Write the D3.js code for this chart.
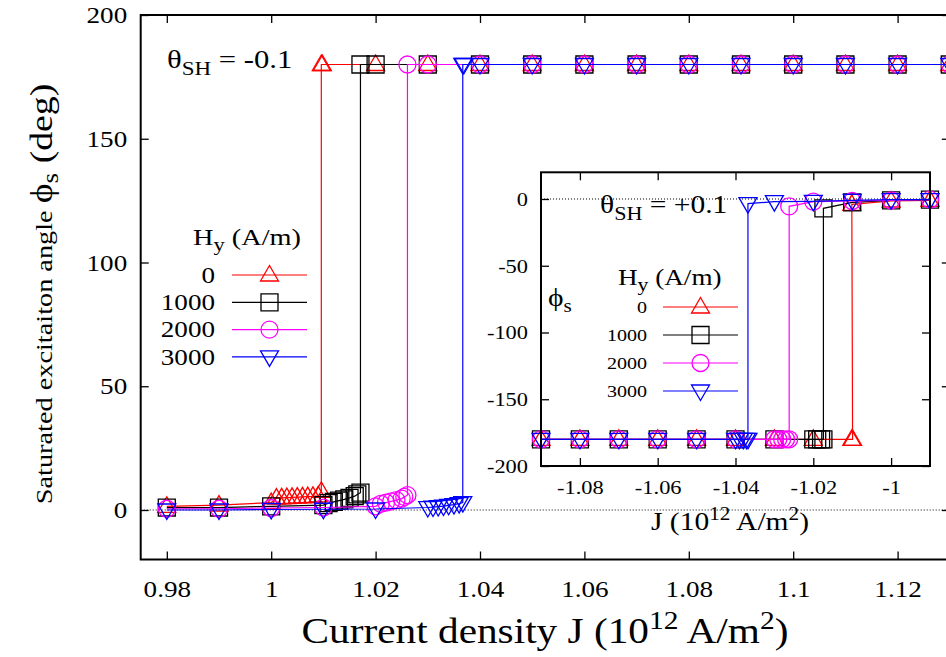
<!DOCTYPE html>
<html>
<head>
<meta charset="utf-8">
<script src="https://cdn.jsdelivr.net/npm/d3@7"></script>
<style>
  body { margin: 0; background: #fff; }
</style>
</head>
<body>
<svg id="chart" width="946" height="657" font-family="'Liberation Serif', 'Times New Roman', serif"></svg>
<script>

// legend / series labels (Hy in A/m)
var fieldLabels = [ '0', '1000', '2000', '3000' ];
var seriesShapes = [ 'up', 'square', 'circle', 'down' ];
var seriesColors = [ '#ff0000', '#000000', '#ff00ff', '#0000ff' ];

// main panel, theta_SH = -0.1 : [ J, phi_s ]
var mainHy0 = [
	[ 0.98, 1.5 ], [ 0.99, 2.0 ], [ 1.00, 3.0 ], [ 1.001, 4.8 ], [ 1.002, 4.9 ], [ 1.003, 5.0 ],
	[ 1.004, 5.1 ], [ 1.005, 5.2 ], [ 1.006, 5.3 ], [ 1.007, 5.4 ], [ 1.008, 5.5 ], [ 1.009, 5.7 ],
	[ 1.0096, 7.5 ], [ 1.0096, 180 ], [ 1.0098, 180 ], [ 1.02, 180 ], [ 1.03, 180 ], [ 1.04, 180 ],
	[ 1.05, 180 ], [ 1.06, 180 ], [ 1.07, 180 ], [ 1.08, 180 ], [ 1.09, 180 ], [ 1.10, 180 ],
	[ 1.11, 180 ], [ 1.12, 180 ], [ 1.13, 180 ]
];
var mainHy1000 = [
	[ 0.98, 1.0 ], [ 0.99, 1.0 ], [ 1.00, 1.5 ], [ 1.01, 2.0 ], [ 1.011, 2.8 ], [ 1.012, 3.3 ],
	[ 1.013, 3.8 ], [ 1.014, 4.3 ], [ 1.015, 4.9 ], [ 1.016, 5.6 ], [ 1.0165, 6.3 ], [ 1.0171, 7.0 ],
	[ 1.0171, 180 ], [ 1.02, 180 ], [ 1.03, 180 ], [ 1.04, 180 ], [ 1.05, 180 ], [ 1.06, 180 ],
	[ 1.07, 180 ], [ 1.08, 180 ], [ 1.09, 180 ], [ 1.10, 180 ], [ 1.11, 180 ], [ 1.12, 180 ],
	[ 1.13, 180 ]
];
var mainHy2000 = [
	[ 0.98, 0.5 ], [ 0.99, 0.5 ], [ 1.00, 0.8 ], [ 1.01, 1.0 ], [ 1.02, 1.5 ], [ 1.021, 2.5 ],
	[ 1.022, 3.0 ], [ 1.023, 3.5 ], [ 1.024, 4.0 ], [ 1.025, 4.6 ], [ 1.0255, 5.3 ], [ 1.0261, 6.0 ],
	[ 1.0261, 180 ], [ 1.03, 180 ], [ 1.04, 180 ], [ 1.05, 180 ], [ 1.06, 180 ], [ 1.07, 180 ],
	[ 1.08, 180 ], [ 1.09, 180 ], [ 1.10, 180 ], [ 1.11, 180 ], [ 1.12, 180 ], [ 1.13, 180 ]
];
var mainHy3000 = [
	[ 0.98, 0.0 ], [ 0.99, 0.0 ], [ 1.00, 0.2 ], [ 1.01, 0.3 ], [ 1.02, 0.4 ], [ 1.03, 1.0 ],
	[ 1.031, 1.2 ], [ 1.032, 1.4 ], [ 1.033, 1.6 ], [ 1.034, 1.9 ], [ 1.035, 2.2 ], [ 1.036, 2.6 ],
	[ 1.0367, 3.0 ], [ 1.0367, 180 ], [ 1.0369, 180 ], [ 1.04, 180 ], [ 1.05, 180 ], [ 1.06, 180 ],
	[ 1.07, 180 ], [ 1.08, 180 ], [ 1.09, 180 ], [ 1.10, 180 ], [ 1.11, 180 ], [ 1.12, 180 ],
	[ 1.13, 180 ]
];

// inset, theta_SH = +0.1 : [ J, phi_s ]
var insetHy0 = [
	[ -1.09, -180 ], [ -1.08, -180 ], [ -1.07, -180 ], [ -1.06, -180 ], [ -1.05, -180 ], [ -1.04, -180 ],
	[ -1.03, -180 ], [ -1.02, -180 ], [ -1.0101, -180 ], [ -1.0099, -180 ], [ -1.0101, -4.0 ],
	[ -1.00, -1.5 ], [ -0.99, -1.0 ]
];
var insetHy1000 = [
	[ -1.09, -180 ], [ -1.08, -180 ], [ -1.07, -180 ], [ -1.06, -180 ], [ -1.05, -180 ], [ -1.04, -180 ],
	[ -1.03, -180 ], [ -1.02, -180 ], [ -1.019, -180 ], [ -1.018, -180 ], [ -1.0174, -180 ],
	[ -1.0174, -7.0 ], [ -1.01, -2.5 ], [ -1.00, -1.0 ], [ -0.99, -0.5 ]
];
var insetHy2000 = [
	[ -1.09, -180 ], [ -1.08, -180 ], [ -1.07, -180 ], [ -1.06, -180 ], [ -1.05, -180 ], [ -1.04, -180 ],
	[ -1.03, -180 ], [ -1.029, -180 ], [ -1.028, -180 ], [ -1.027, -180 ], [ -1.0262, -180 ],
	[ -1.0262, -5.5 ], [ -1.02, -2.0 ], [ -1.01, -1.5 ], [ -1.00, -1.0 ], [ -0.99, -0.5 ]
];
var insetHy3000 = [
	[ -1.09, -180 ], [ -1.08, -180 ], [ -1.07, -180 ], [ -1.06, -180 ], [ -1.05, -180 ], [ -1.04, -180 ],
	[ -1.039, -180 ], [ -1.038, -180 ], [ -1.0372, -180 ], [ -1.0368, -180 ], [ -1.0368, -3.5 ],
	[ -1.03, -2.0 ], [ -1.02, -1.8 ], [ -1.01, -1.0 ], [ -1.00, -0.5 ], [ -0.99, -0.5 ]
];

// tick values
var mainXTicks = [ 0.98, 1.00, 1.02, 1.04, 1.06, 1.08, 1.10, 1.12 ];
var mainYTicks = [ 0, 50, 100, 150, 200 ];
var insetXTicks = [ -1.08, -1.06, -1.04, -1.02, -1.00 ];
var insetYTicks = [ -200, -150, -100, -50, 0 ];

var mainSeries = [ mainHy0, mainHy1000, mainHy2000, mainHy3000 ];
var insetSeries = [ insetHy0, insetHy1000, insetHy2000, insetHy3000 ];

// the original font is wider than Times, stretch text horizontally
var STRETCH = 1.18;

var svg = d3.select( '#chart' );

function stretchAt( _x, _y ) {
	return 'translate(' + _x + ',' + _y + ') scale(' + STRETCH + ',1)';
}

function markerPath( _shape ) {
	if ( _shape === 'up' ) return 'M0,-9.5L9,6L-9,6Z';
	if ( _shape === 'down' ) return 'M0,9.5L9,-6L-9,-6Z';
	if ( _shape === 'square' ) return 'M-8.5,-8.5H8.5V8.5H-8.5Z';
	var p = d3.path();
	p.arc( 0, 0, 8.5, 0, 2 * Math.PI );
	p.closePath();
	return p.toString();
}

function fmtNum( _d ) {
	return String( +_d.toFixed( 2 ) );
}

// draw one panel (frame, ticks, dotted zero line, series)
function drawPanel( _g, _x, _y, _series, _opts ) {
	var x0 = _x.range()[ 0 ], x1 = _x.range()[ 1 ],
		y0 = _y.range()[ 0 ], y1 = _y.range()[ 1 ];

	_g.append( 'rect' )
		.attr( 'x', x0 ).attr( 'y', y1 )
		.attr( 'width', x1 - x0 ).attr( 'height', y0 - y1 )
		.attr( 'fill', '#fff' );

	// zero line
	_g.append( 'line' )
		.attr( 'x1', x0 ).attr( 'x2', x1 )
		.attr( 'y1', _y( 0 ) ).attr( 'y2', _y( 0 ) )
		.attr( 'stroke', '#000' ).attr( 'stroke-width', 1 )
		.attr( 'stroke-dasharray', '1,2' );

	var xAxis = d3.axisBottom( _x ).tickValues( _opts.xTicks ).tickSizeInner( -8 ).tickSizeOuter( 0 ).tickFormat( fmtNum );
	var xTop = d3.axisTop( _x ).tickValues( _opts.xTicks ).tickSizeInner( -8 ).tickSizeOuter( 0 ).tickFormat( '' );
	var yAxis = d3.axisLeft( _y ).tickValues( _opts.yTicks ).tickSizeInner( -8 ).tickSizeOuter( 0 ).tickFormat( fmtNum );
	var yRight = d3.axisRight( _y ).tickValues( _opts.yTicks ).tickSizeInner( -8 ).tickSizeOuter( 0 ).tickFormat( '' );

	var gx = _g.append( 'g' ).attr( 'transform', 'translate(0,' + y0 + ')' ).call( xAxis );
	var gxt = _g.append( 'g' ).attr( 'transform', 'translate(0,' + y1 + ')' ).call( xTop );
	var gy = _g.append( 'g' ).attr( 'transform', 'translate(' + x0 + ',0)' ).call( yAxis );
	var gyr = _g.append( 'g' ).attr( 'transform', 'translate(' + x1 + ',0)' ).call( yRight );

	[ gx, gxt, gy, gyr ].forEach( function( _a ) {
		_a.attr( 'font-family', null ).attr( 'font-size', null );
		_a.select( '.domain' ).remove();
		_a.selectAll( '.tick line' ).attr( 'stroke', '#000' ).attr( 'stroke-width', 1.3 );
	} );

	gx.selectAll( 'text' )
		.attr( 'fill', '#000' ).attr( 'font-size', _opts.tickFont )
		.attr( 'dy', null ).attr( 'x', 0 ).attr( 'y', 0 )
		.attr( 'transform', stretchAt( 0, _opts.xLabelDy ) );
	gy.selectAll( 'text' )
		.attr( 'fill', '#000' ).attr( 'font-size', _opts.tickFont )
		.attr( 'x', 0 ).attr( 'dy', '0.33em' )
		.attr( 'transform', stretchAt( _opts.yLabelDx, 0 ) );

	var line = d3.line().x( function( _d ) { return _x( _d[ 0 ] ); } ).y( function( _d ) { return _y( _d[ 1 ] ); } );

	_series.forEach( function( _s, _i ) {
		_g.append( 'path' )
			.attr( 'd', line( _s ) )
			.attr( 'fill', 'none' )
			.attr( 'stroke', seriesColors[ _i ] )
			.attr( 'stroke-width', 1.2 );
		_g.selectAll( null ).data( _s ).enter().append( 'path' )
			.attr( 'd', markerPath( seriesShapes[ _i ] ) )
			.attr( 'transform', function( _d ) { return 'translate(' + _x( _d[ 0 ] ) + ',' + _y( _d[ 1 ] ) + ')'; } )
			.attr( 'fill', 'none' )
			.attr( 'stroke', seriesColors[ _i ] )
			.attr( 'stroke-width', 1.3 );
	} );

	// frame
	_g.append( 'rect' )
		.attr( 'x', x0 ).attr( 'y', y1 )
		.attr( 'width', x1 - x0 ).attr( 'height', y0 - y1 )
		.attr( 'fill', 'none' ).attr( 'stroke', '#000' ).attr( 'stroke-width', 2 );
}

function drawLegend( _g, _lx, _ly, _opts ) {
	var title = _g.append( 'text' ).attr( 'transform', stretchAt( _opts.titleX, _ly - _opts.titleGap ) )
		.attr( 'font-size', _opts.titleFont );
	title.append( 'tspan' ).text( 'H' );
	title.append( 'tspan' ).attr( 'dy', _opts.titleFont * 0.25 ).attr( 'font-size', _opts.titleFont * 0.8 ).text( 'y' );
	title.append( 'tspan' ).attr( 'dy', -_opts.titleFont * 0.25 ).text( ' (A/m)' );

	fieldLabels.forEach( function( _lab, _i ) {
		var yy = _ly + _i * _opts.rowGap;
		_g.append( 'text' ).attr( 'transform', stretchAt( _lx, yy ) ).attr( 'dy', '0.33em' )
			.attr( 'text-anchor', 'end' ).attr( 'font-size', _opts.entryFont ).text( _lab );
		_g.append( 'line' )
			.attr( 'x1', _opts.lineX0 ).attr( 'x2', _opts.lineX1 ).attr( 'y1', yy ).attr( 'y2', yy )
			.attr( 'stroke', seriesColors[ _i ] ).attr( 'stroke-width', 1.2 );
		_g.append( 'path' ).attr( 'd', markerPath( seriesShapes[ _i ] ) )
			.attr( 'transform', 'translate(' + ( _opts.lineX0 + _opts.lineX1 ) / 2 + ',' + yy + ')' )
			.attr( 'fill', 'none' ).attr( 'stroke', seriesColors[ _i ] ).attr( 'stroke-width', 1.3 );
	} );
}

function thetaLabel( _g, _x, _y, _size, _value ) {
	var t = _g.append( 'text' ).attr( 'transform', stretchAt( _x, _y ) ).attr( 'font-size', _size );
	t.append( 'tspan' ).text( 'θ' );
	t.append( 'tspan' ).attr( 'dy', _size * 0.28 ).attr( 'font-size', _size * 0.75 ).text( 'SH' );
	t.append( 'tspan' ).attr( 'dy', -_size * 0.28 ).text( ' = ' + _value );
}

// ---- main panel
var x = d3.scaleLinear().domain( [ 0.975, 1.13 ] ).range( [ 140.7, 949.8 ] );
var y = d3.scaleLinear().domain( [ -20, 200 ] ).range( [ 559.5, 15 ] );

var gMain = svg.append( 'g' );
drawPanel( gMain, x, y, mainSeries, {
	xTicks: mainXTicks, yTicks: mainYTicks,
	tickFont: 23, xLabelDy: 37.5, yLabelDx: -13.5
} );

thetaLabel( gMain, 167, 68, 26, '-0.1' );
drawLegend( gMain, 215, 275, {
	titleX: 193, titleGap: 30, titleFont: 24, entryFont: 23, rowGap: 27.3,
	lineX0: 232, lineX1: 307
} );

// axis titles
var xt = svg.append( 'text' ).attr( 'transform', stretchAt( 545, 643 ) )
	.attr( 'text-anchor', 'middle' ).attr( 'font-size', 35 );
xt.append( 'tspan' ).text( 'Current density J (10' );
xt.append( 'tspan' ).attr( 'dy', -14 ).attr( 'font-size', 25 ).text( '12' );
xt.append( 'tspan' ).attr( 'dy', 14 ).text( ' A/m' );
xt.append( 'tspan' ).attr( 'dy', -14 ).attr( 'font-size', 25 ).text( '2' );
xt.append( 'tspan' ).attr( 'dy', 14 ).text( ')' );

var yt = svg.append( 'text' ).attr( 'transform', 'translate(52,294) rotate(-90) scale(' + STRETCH + ',1)' ).attr( 'text-anchor', 'middle' );
yt.append( 'tspan' ).attr( 'font-size', 24 ).text( 'Saturated excitaiton angle ' );
yt.append( 'tspan' ).attr( 'font-size', 32 ).text( 'ϕ' );
yt.append( 'tspan' ).attr( 'font-size', 23 ).attr( 'dy', 6 ).text( 's' );
yt.append( 'tspan' ).attr( 'font-size', 32 ).attr( 'dy', -6 ).text( ' (deg)' );

// ---- inset panel
var xi = d3.scaleLinear().domain( [ -1.09, -0.99 ] ).range( [ 541, 930 ] );
var yi = d3.scaleLinear().domain( [ -200, 20 ] ).range( [ 466, 172.3 ] );

var gInset = svg.append( 'g' );
drawPanel( gInset, xi, yi, insetSeries, {
	xTicks: insetXTicks, yTicks: insetYTicks,
	tickFont: 19, xLabelDy: 28, yLabelDx: -13
} );

thetaLabel( gInset, 600, 213, 25, '+0.1' );
drawLegend( gInset, 647, 307, {
	titleX: 618, titleGap: 22, titleFont: 23, entryFont: 17, rowGap: 28,
	lineX0: 663, lineX1: 738
} );

var xit = gInset.append( 'text' ).attr( 'transform', stretchAt( 730, 530 ) ).attr( 'text-anchor', 'middle' ).attr( 'font-size', 25 );
xit.append( 'tspan' ).text( 'J (10' );
xit.append( 'tspan' ).attr( 'dy', -10 ).attr( 'font-size', 18 ).text( '12' );
xit.append( 'tspan' ).attr( 'dy', 10 ).text( ' A/m' );
xit.append( 'tspan' ).attr( 'dy', -10 ).attr( 'font-size', 18 ).text( '2' );
xit.append( 'tspan' ).attr( 'dy', 10 ).text( ')' );

var yit = gInset.append( 'text' ).attr( 'transform', stretchAt( 548, 306 ) ).attr( 'font-size', 25 );
yit.append( 'tspan' ).text( 'ϕ' );
yit.append( 'tspan' ).attr( 'dy', 6 ).attr( 'font-size', 18 ).text( 's' );

</script>
</body>
</html>
